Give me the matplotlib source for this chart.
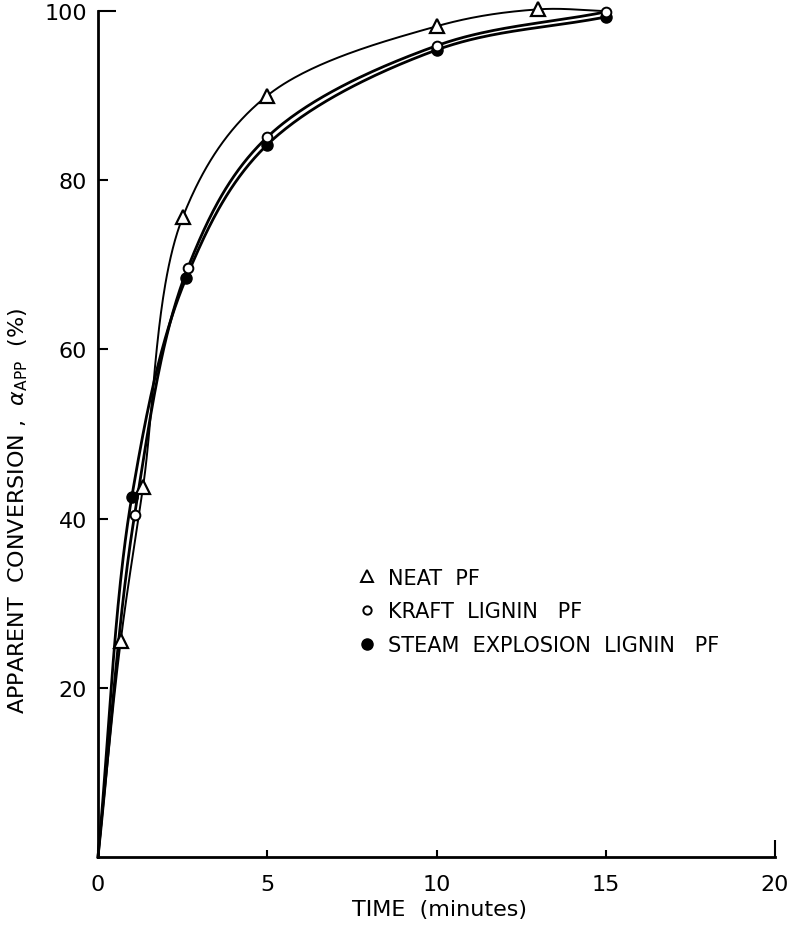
import matplotlib
matplotlib.use('Agg')
import matplotlib.pyplot as plt
import numpy as np
from matplotlib.lines import Line2D

# cure data: time (min) vs apparent conversion (%)
neat_t = [0.67, 1.33, 2.5, 5.0, 10.0, 13.0]
neat_a = [25.5, 43.7, 75.6, 90.0, 98.2, 100.2]

kraft_t = [1.08, 2.65, 5.0, 10.0, 15.0]
kraft_a = [40.4, 69.6, 85.1, 95.9, 99.9]

steam_t = [1.0, 2.6, 5.0, 10.0, 15.0]
steam_a = [42.6, 68.4, 84.2, 95.4, 99.3]

# the neat-resin curve is carried on to 15 min
neat_end_t = 15.0
neat_end_a = 100.0

# rough size of one data unit on the page, so the curve is smoothed in page space
SX, SY = 33.85, 8.46


def catmull_rom(x, y, n=60):
    # centripetal Catmull-Rom curve through the points
    P = np.column_stack([np.asarray(x, float) * SX, np.asarray(y, float) * SY])
    P = np.vstack([2 * P[0] - P[1], P, 2 * P[-1] - P[-2]])
    out = []
    for i in range(1, len(P) - 2):
        p0, p1, p2, p3 = P[i - 1], P[i], P[i + 1], P[i + 2]
        t0 = 0.0
        t1 = t0 + np.linalg.norm(p1 - p0) ** 0.5
        t2 = t1 + np.linalg.norm(p2 - p1) ** 0.5
        t3 = t2 + np.linalg.norm(p3 - p2) ** 0.5
        t = np.linspace(t1, t2, n)[:, None]
        a1 = (t1 - t) / (t1 - t0) * p0 + (t - t0) / (t1 - t0) * p1
        a2 = (t2 - t) / (t2 - t1) * p1 + (t - t1) / (t2 - t1) * p2
        a3 = (t3 - t) / (t3 - t2) * p2 + (t - t2) / (t3 - t2) * p3
        b1 = (t2 - t) / (t2 - t0) * a1 + (t - t0) / (t2 - t0) * a2
        b2 = (t3 - t) / (t3 - t1) * a2 + (t - t1) / (t3 - t1) * a3
        c = (t2 - t) / (t2 - t1) * b1 + (t - t1) / (t2 - t1) * b2
        out.append(c)
    c = np.vstack(out)
    return c[:, 0] / SX, c[:, 1] / SY


fig = plt.figure(figsize=(7.94, 9.28), dpi=100)
ax = fig.add_axes([0.1234, 0.0754, 0.8527, 0.9116])

# smooth curves from the origin through each data set
cx, cy = catmull_rom([0] + neat_t + [neat_end_t], [0] + neat_a + [neat_end_a])
ax.plot(cx, cy, color='black', lw=1.4, clip_on=False)
cx, cy = catmull_rom([0] + kraft_t, [0] + kraft_a)
ax.plot(cx, cy, color='black', lw=2.0, clip_on=False)
cx, cy = catmull_rom([0] + steam_t, [0] + steam_a)
ax.plot(cx, cy, color='black', lw=2.0, clip_on=False)

ax.plot(neat_t, neat_a, linestyle='none', marker='^', markersize=10,
        markerfacecolor='white', markeredgecolor='black', markeredgewidth=1.6,
        clip_on=False)
ax.plot(steam_t, steam_a, linestyle='none', marker='o', markersize=8,
        markerfacecolor='black', markeredgecolor='black', clip_on=False)
ax.plot(kraft_t, kraft_a, linestyle='none', marker='o', markersize=7,
        markerfacecolor='white', markeredgecolor='black', markeredgewidth=1.4,
        clip_on=False)

ax.set_xlim(0, 20)
ax.set_ylim(0, 100)
ax.set_xticks([0, 5, 10, 15, 20])
ax.set_yticks([20, 40, 60, 80, 100])
ax.spines['top'].set_visible(False)
ax.spines['right'].set_visible(False)
ax.spines['left'].set_linewidth(2)
ax.spines['bottom'].set_linewidth(2)
ax.tick_params(axis='both', direction='in', labelsize=16, width=1.5)
ax.tick_params(axis='y', length=7, pad=8)
ax.tick_params(axis='x', length=5, pad=12)
ax.yaxis.get_major_ticks()[-1].tick1line.set_markersize(13)
ax.xaxis.get_major_ticks()[-1].tick1line.set_markersize(12)

ax.set_xlabel('TIME  (minutes)', fontsize=16)
ax.xaxis.set_label_coords(0.505, -0.05)
ax.set_ylabel(r'APPARENT  CONVERSION ,  $\alpha_{\mathrm{APP}}$  (%)', fontsize=16)
ax.yaxis.set_label_coords(-0.1, 0.41)

handles = [
    Line2D([], [], linestyle='none', marker='^', markersize=9,
           markerfacecolor='white', markeredgecolor='black', markeredgewidth=1.4),
    Line2D([], [], linestyle='none', marker='o', markersize=6,
           markerfacecolor='white', markeredgecolor='black', markeredgewidth=1.4),
    Line2D([], [], linestyle='none', marker='o', markersize=8,
           markerfacecolor='black', markeredgecolor='black'),
]
labels = ['NEAT  PF', 'KRAFT  LIGNIN   PF', 'STEAM  EXPLOSION  LIGNIN   PF']
ax.legend(handles, labels, loc='upper left', bbox_to_anchor=(0.37, 0.352),
          frameon=False, fontsize=15, handlelength=1.0, handletextpad=0.5,
          labelspacing=0.66, borderaxespad=0)

fig.savefig('out.png', dpi=100)
